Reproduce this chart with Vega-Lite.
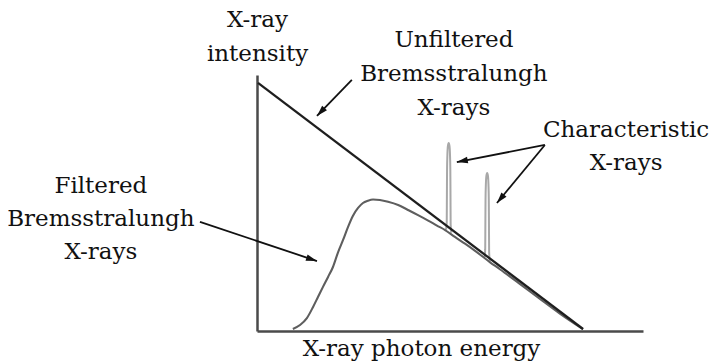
{
  "$schema": "https://vega.github.io/schema/vega-lite/v6.json",
  "width": 386,
  "height": 256,
  "autosize": {"type": "none"},
  "padding": {"left": 257, "top": 75, "right": 66, "bottom": 33},
  "background": "white",
  "config": {
    "font": "DejaVu Serif",
    "view": {"stroke": null},
    "axis": {
      "grid": false, "ticks": false, "labels": false,
      "domainColor": "#4a4a4a", "domainWidth": 2.5,
      "titleFont": "DejaVu Serif", "titleFontSize": 23, "titleFontWeight": "normal", "titleColor": "#111111"
    }
  },
  "encoding": {
    "x": {
      "field": "energy", "type": "quantitative",
      "scale": {"domain": [0, 118.4], "nice": false, "zero": false},
      "axis": {"title": "X-ray photon energy", "titleX": 164, "titleY": 24, "titleAlign": "center", "titleBaseline": "alphabetic"}
    },
    "y": {
      "field": "intensity", "type": "quantitative",
      "scale": {"domain": [0, 103.2], "nice": false, "zero": false},
      "axis": {"title": ["X-ray", "intensity"], "titleAngle": 0, "titleX": 0, "titleY": -49, "titleAlign": "center", "titleBaseline": "alphabetic", "titleLineHeight": 34}
    }
  },
  "layer": [
    {
      "data": {"values": [
        {"peak": "K1", "energy": 58.0, "intensity": 40.9},
        {"peak": "K1", "energy": 58.2, "intensity": 44},
        {"peak": "K1", "energy": 58.25, "intensity": 55},
        {"peak": "K1", "energy": 58.3, "intensity": 65},
        {"peak": "K1", "energy": 58.4, "intensity": 71},
        {"peak": "K1", "energy": 58.55, "intensity": 74.5},
        {"peak": "K1", "energy": 58.8, "intensity": 75.8},
        {"peak": "K1", "energy": 59.05, "intensity": 74.5},
        {"peak": "K1", "energy": 59.2, "intensity": 71},
        {"peak": "K1", "energy": 59.3, "intensity": 65},
        {"peak": "K1", "energy": 59.35, "intensity": 55},
        {"peak": "K1", "energy": 59.4, "intensity": 43},
        {"peak": "K1", "energy": 59.6, "intensity": 39.6},
        {"peak": "K2", "energy": 69.8, "intensity": 29.8},
        {"peak": "K2", "energy": 70.0, "intensity": 33},
        {"peak": "K2", "energy": 70.05, "intensity": 43},
        {"peak": "K2", "energy": 70.1, "intensity": 53},
        {"peak": "K2", "energy": 70.2, "intensity": 59},
        {"peak": "K2", "energy": 70.35, "intensity": 62.4},
        {"peak": "K2", "energy": 70.6, "intensity": 63.7},
        {"peak": "K2", "energy": 70.85, "intensity": 62.4},
        {"peak": "K2", "energy": 71.0, "intensity": 59},
        {"peak": "K2", "energy": 71.1, "intensity": 53},
        {"peak": "K2", "energy": 71.15, "intensity": 43},
        {"peak": "K2", "energy": 71.2, "intensity": 32},
        {"peak": "K2", "energy": 71.4, "intensity": 28.0}
      ]},
      "mark": {"type": "line", "color": "#a8a8a8", "strokeWidth": 2, "interpolate": "monotone"},
      "encoding": {"detail": {"field": "peak"}}
    },
    {
      "data": {"values": [
        {"energy": 11.0, "intensity": 0.8},
        {"energy": 13.2, "intensity": 2.4},
        {"energy": 15.3, "intensity": 5.2},
        {"energy": 17.2, "intensity": 9.7},
        {"energy": 18.7, "intensity": 13.7},
        {"energy": 20.2, "intensity": 17.7},
        {"energy": 21.8, "intensity": 21.8},
        {"energy": 23.3, "intensity": 25.8},
        {"energy": 24.8, "intensity": 31.5},
        {"energy": 26.4, "intensity": 36.7},
        {"energy": 27.9, "intensity": 41.9},
        {"energy": 29.4, "intensity": 46.4},
        {"energy": 31.0, "intensity": 49.6},
        {"energy": 32.5, "intensity": 51.6},
        {"energy": 34.0, "intensity": 52.5},
        {"energy": 35.6, "intensity": 53.0},
        {"energy": 37.7, "intensity": 52.8},
        {"energy": 40.2, "intensity": 52.1},
        {"energy": 43.3, "intensity": 50.8},
        {"energy": 46.3, "intensity": 48.8},
        {"energy": 49.4, "intensity": 46.7},
        {"energy": 52.5, "intensity": 44.5},
        {"energy": 55.2, "intensity": 42.5},
        {"energy": 57.7, "intensity": 40.7},
        {"energy": 60.7, "intensity": 37.9},
        {"energy": 63.8, "intensity": 35.2},
        {"energy": 66.9, "intensity": 32.3},
        {"energy": 71.5, "intensity": 27.7},
        {"energy": 74.5, "intensity": 24.9},
        {"energy": 80.7, "intensity": 18.9},
        {"energy": 86.8, "intensity": 12.9},
        {"energy": 92.9, "intensity": 7.0},
        {"energy": 100.0, "intensity": 0.7}
      ]},
      "mark": {"type": "line", "color": "#5e5e5e", "strokeWidth": 2.1, "interpolate": "monotone"}
    },
    {
      "data": {"values": [
        {"energy": 0.3, "intensity": 100},
        {"energy": 100, "intensity": 0.8}
      ]},
      "mark": {"type": "line", "color": "#1e1e1e", "strokeWidth": 2.3}
    },
    {
      "data": {"values": [
        {"energy": 29.1, "intensity": 101.2, "energy2": 18.4, "intensity2": 86.7},
        {"energy": 88.3, "intensity": 75.0, "energy2": 61.3, "intensity2": 68.1},
        {"energy": 88.3, "intensity": 75.0, "energy2": 73.6, "intensity2": 51.6},
        {"energy": -17.5, "intensity": 44.0, "energy2": 18.4, "intensity2": 28.2}
      ]},
      "mark": {"type": "rule", "color": "#111111", "strokeWidth": 1.8},
      "encoding": {"x2": {"field": "energy2"}, "y2": {"field": "intensity2"}}
    },
    {
      "data": {"values": [{"energy": 18.4, "intensity": 86.7}]},
      "mark": {"type": "point", "shape": "M0,0 L0.6,2 L-0.6,2 Z", "size": 121, "filled": true, "color": "#111111", "opacity": 1, "angle": 223.4}
    },
    {
      "data": {"values": [{"energy": 61.3, "intensity": 68.1}]},
      "mark": {"type": "point", "shape": "M0,0 L0.6,2 L-0.6,2 Z", "size": 121, "filled": true, "color": "#111111", "opacity": 1, "angle": 259.1}
    },
    {
      "data": {"values": [{"energy": 73.6, "intensity": 51.6}]},
      "mark": {"type": "point", "shape": "M0,0 L0.6,2 L-0.6,2 Z", "size": 121, "filled": true, "color": "#111111", "opacity": 1, "angle": 219.6}
    },
    {
      "data": {"values": [{"energy": 18.4, "intensity": 28.2}]},
      "mark": {"type": "point", "shape": "M0,0 L0.6,2 L-0.6,2 Z", "size": 121, "filled": true, "color": "#111111", "opacity": 1, "angle": 108.4}
    },
    {
      "data": {"values": [
        {"label": "Unfiltered", "energy": 60.4, "intensity": 114.5},
        {"label": "Bremsstralungh", "energy": 60.4, "intensity": 100.8},
        {"label": "X-rays", "energy": 60.4, "intensity": 87.1},
        {"label": "Characteristic", "energy": 113.2, "intensity": 78.2},
        {"label": "X-rays", "energy": 113.2, "intensity": 64.9},
        {"label": "Filtered", "energy": -47.9, "intensity": 55.6},
        {"label": "Bremsstralungh", "energy": -47.9, "intensity": 42.3},
        {"label": "X-rays", "energy": -47.9, "intensity": 29.0}
      ]},
      "mark": {"type": "text", "font": "DejaVu Serif", "fontSize": 23, "align": "center", "baseline": "alphabetic", "color": "#111111"},
      "encoding": {"text": {"field": "label"}}
    }
  ]
}
